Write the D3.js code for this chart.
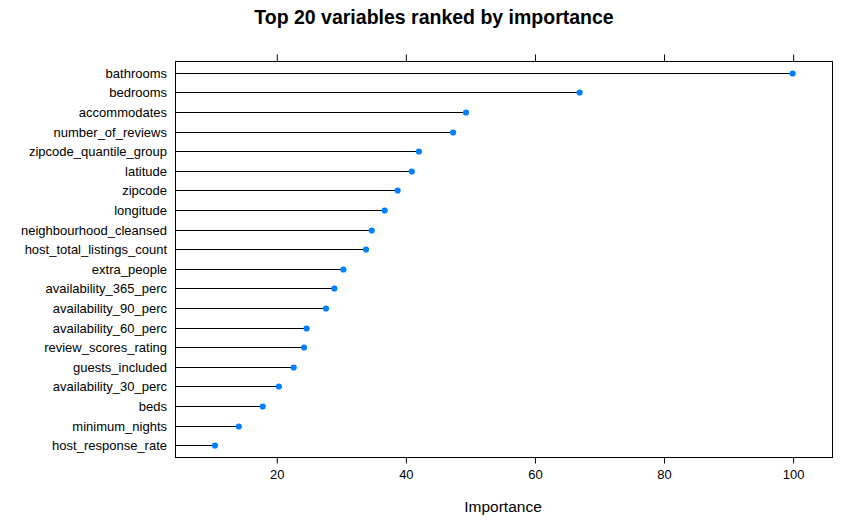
<!DOCTYPE html>
<html>
<head>
<meta charset="utf-8">
<script src="https://cdn.jsdelivr.net/npm/d3@7"></script>
<style>
  html, body { margin: 0; padding: 0; background: #fff; }
  svg { display: block; font-family: "Liberation Sans", Arial, sans-serif; }
</style>
</head>
<body>
<svg id="chart" width="864" height="528"></svg>
<script>
const variables = [
  "bathrooms", "bedrooms", "accommodates", "number_of_reviews",
  "zipcode_quantile_group", "latitude", "zipcode", "longitude",
  "neighbourhood_cleansed", "host_total_listings_count", "extra_people",
  "availability_365_perc", "availability_90_perc", "availability_60_perc",
  "review_scores_rating", "guests_included", "availability_30_perc",
  "beds", "minimum_nights", "host_response_rate"
];
const importance = [
  100, 67, 49.4, 47.4, 42.1, 41.0, 38.8, 36.8, 34.8, 33.9, 30.4,
  29.0, 27.7, 24.7, 24.3, 22.7, 20.4, 17.9, 14.2, 10.5
];
const xTicks = [20, 40, 60, 80, 100];
const titleText = "Top 20 variables ranked by importance";
const xLabel = "Importance";

const svg = d3.select("#chart");
const box = { left: 175, right: 832, top: 61, bottom: 457 };

const x = d3.scaleLinear().domain([4.31, 106.1]).range([box.left, box.right]);
const n = variables.length;
const y = d3.scaleLinear().domain([-0.6, n - 0.4]).range([box.top, box.bottom]);

// title
svg.append("text")
  .attr("x", 434).attr("y", 24)
  .attr("text-anchor", "middle")
  .attr("font-size", 19.5).attr("font-weight", "bold")
  .attr("fill", "#000")
  .text(titleText);

// lines
const g = svg.append("g");
g.selectAll("line.stem").data(importance).join("line")
  .attr("class", "stem")
  .attr("x1", box.left).attr("x2", d => x(d))
  .attr("y1", (d, i) => Math.round(y(i)) + 0.5)
  .attr("y2", (d, i) => Math.round(y(i)) + 0.5)
  .attr("stroke", "#000").attr("stroke-width", 1.1);

// points
g.selectAll("circle.pt").data(importance).join("circle")
  .attr("class", "pt")
  .attr("cx", d => x(d))
  .attr("cy", (d, i) => Math.round(y(i)) + 0.5)
  .attr("r", 3.1)
  .attr("fill", "#0080ff");

// frame
svg.append("rect")
  .attr("x", box.left + 0.5).attr("y", box.top + 0.5)
  .attr("width", box.right - box.left).attr("height", box.bottom - box.top)
  .attr("fill", "none").attr("stroke", "#000").attr("stroke-width", 1);

// bottom axis
const bottomAxis = d3.axisBottom(x).tickValues(xTicks).tickSize(6).tickPadding(6);
const ga = svg.append("g").attr("transform", `translate(0.5,${box.bottom + 0.5})`).call(bottomAxis);
ga.select(".domain").remove();
ga.selectAll("line").attr("stroke", "#000");
ga.selectAll("text").attr("font-size", 13).attr("fill", "#000")
  .attr("font-family", "'Liberation Sans', Arial, sans-serif");

// top axis (ticks only)
const topAxis = d3.axisTop(x).tickValues(xTicks).tickSize(7).tickFormat("");
const gt = svg.append("g").attr("transform", `translate(0.5,${box.top + 0.5})`).call(topAxis);
gt.select(".domain").remove();
gt.selectAll("line").attr("stroke", "#000");

// y labels
svg.append("g").selectAll("text").data(variables).join("text")
  .attr("x", 167)
  .attr("y", (d, i) => Math.round(y(i)) + 0.5)
  .attr("dy", "0.35em")
  .attr("text-anchor", "end")
  .attr("font-size", 13)
  .attr("fill", "#000")
  .text(d => d);

// x label
svg.append("text")
  .attr("x", 503).attr("y", 512)
  .attr("text-anchor", "middle")
  .attr("font-size", 15.5)
  .attr("fill", "#000")
  .text(xLabel);
</script>
</body>
</html>
